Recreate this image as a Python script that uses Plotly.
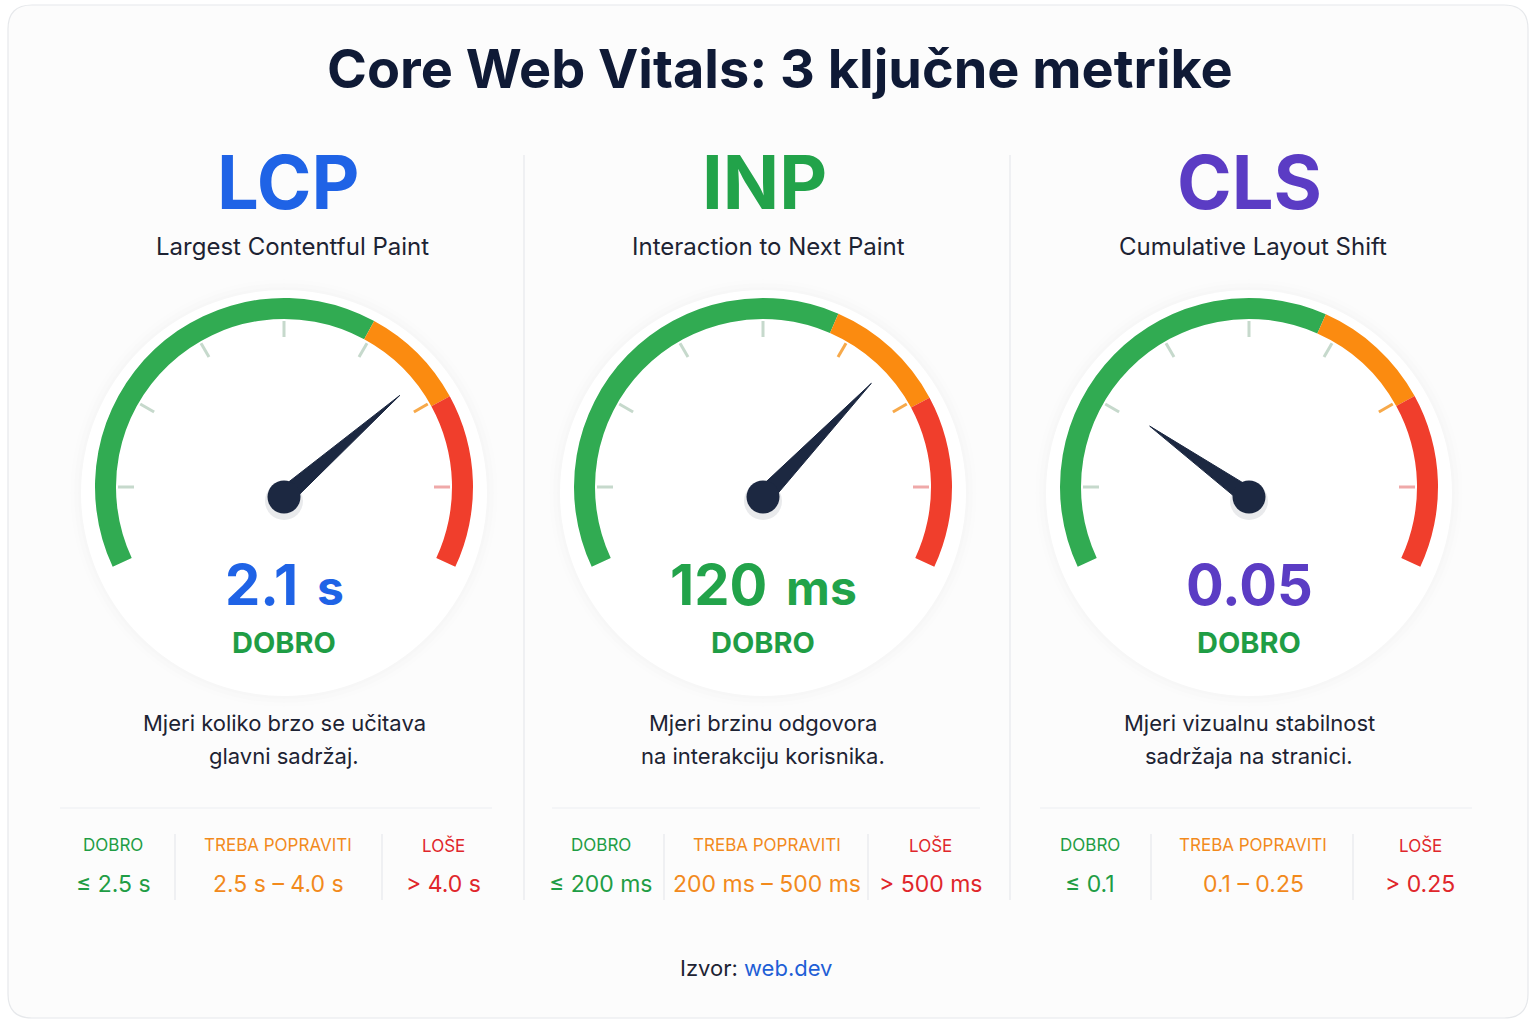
import plotly.graph_objects as go

# ---------------- data ----------------
TITLE = "Core Web Vitals: 3 ključne metrike"
METRICS = ["LCP", "INP", "CLS"]
METRIC_NAMES = ["Largest Contentful Paint", "Interaction to Next Paint", "Cumulative Layout Shift"]
VALUES = [2.1, 120, 0.05]
VALUE_TEXT = ["2.1", "120", "0.05"]
UNITS = ["s", "ms", ""]
STATUS = ["DOBRO", "DOBRO", "DOBRO"]
DESCRIPTIONS = [
    ["Mjeri koliko brzo se učitava", "glavni sadržaj."],
    ["Mjeri brzinu odgovora", "na interakciju korisnika."],
    ["Mjeri vizualnu stabilnost", "sadržaja na stranici."],
]
BAND_LABELS = ["DOBRO", "TREBA POPRAVITI", "LOŠE"]
BAND_RANGES = [
    ["≤ 2.5 s", "2.5 s – 4.0 s", "> 4.0 s"],
    ["≤ 200 ms", "200 ms – 500 ms", "> 500 ms"],
    ["≤ 0.1", "0.1 – 0.25", "> 0.25"],
]
DIAL_MAX = [2.95, 174, 0.19]   # full-scale reading of each dial
SOURCE_LABEL = "Izvor:"
SOURCE = "web.dev"

# ---------------- style ----------------
W, H = 1536, 1024
FONT = "Inter"
NAVY = "#0f1a36"
TEXT = "#1d2333"
ACCENT = ["#1f63e6", "#22a34a", "#5b3cc4"]
GOOD, MID, BAD = "#1f9d45", "#f28a1c", "#e0262b"
BAND_COLORS = [GOOD, MID, BAD]
ZONE_COLORS = ["#31ab52", "#fb8b10", "#f03e2c"]
TG, TO, TR = "#c6d9cc", "#f7a94a", "#efa9a9"
TICK_SCREEN = [180, 150, 120, 90, 60, 30, 0]
TICK_COLORS = [[TG, TG, TG, TG, TG, TO, TR],
               [TG, TG, TG, TG, TO, TO, TR],
               [TG, TG, TG, TG, TG, TO, TR]]
ZONE_SPLITS = [(61.5, 28.7), (66.5, 28.2), (66.0, 28.8)]
COL_X = [284, 763, 1249]
TEXT_X = [288, 764, 1249]
GAUGE_Y = 487
HUB_DY = 10
R_OUT, R_IN = 189, 168
SPAN, START = 230, 205
NEEDLE_LEN = [154, 157, 122]
NEEDLE_COLOR = "#1c2841"
HALF = 200

fig = go.Figure()


def dom(cx, cy):
    return dict(x=[(cx - HALF) / W, (cx + HALF) / W],
                y=[1 - (cy + HALF) / H, 1 - (cy - HALF) / H])


def polar_cfg(cx, cy):
    return dict(
        domain=dom(cx, cy), bgcolor="rgba(0,0,0,0)", hole=0, bargap=0,
        radialaxis=dict(range=[0, HALF], visible=False, showgrid=False),
        angularaxis=dict(visible=False, showgrid=False, rotation=START - 360,
                         direction="clockwise", thetaunit="degrees"),
    )


layout_polars = {}
for i in range(3):
    arc = f"polar{i + 1}" if i else "polar"
    ndl = f"polar{i + 4}"
    layout_polars[arc] = polar_cfg(COL_X[i], GAUGE_Y)
    layout_polars[ndl] = polar_cfg(COL_X[i], GAUGE_Y + HUB_DY)

    # coloured zones
    t1 = START - ZONE_SPLITS[i][0]
    t2 = START - ZONE_SPLITS[i][1]
    bounds = [0, t1, t2, SPAN]
    fig.add_trace(go.Barpolar(
        subplot=arc,
        theta=[(bounds[k] + bounds[k + 1]) / 2 for k in range(3)],
        width=[bounds[k + 1] - bounds[k] for k in range(3)],
        r=[R_OUT - R_IN] * 3, base=[R_IN] * 3,
        marker=dict(color=ZONE_COLORS, line=dict(width=0)),
        hoverinfo="skip", showlegend=False,
    ))
    # ticks
    for col in dict.fromkeys(TICK_COLORS[i]):
        rr, tt = [], []
        for a, c in zip(TICK_SCREEN, TICK_COLORS[i]):
            if c == col:
                rr += [150, 166, None]
                tt += [START - a, START - a, None]
        fig.add_trace(go.Scatterpolar(
            subplot=arc, r=rr, theta=tt, mode="lines",
            line=dict(color=col, width=3), hoverinfo="skip", showlegend=False))

    # needle
    tn = VALUES[i] / DIAL_MAX[i] * SPAN
    fig.add_trace(go.Scatterpolar(
        subplot=ndl, r=[4], theta=[START + 90], mode="markers",
        marker=dict(size=38, color="rgba(15,23,42,0.09)"),
        hoverinfo="skip", showlegend=False))
    fig.add_trace(go.Scatterpolar(
        subplot=ndl,
        r=[NEEDLE_LEN[i], 9, 9, NEEDLE_LEN[i]],
        theta=[tn, tn + 90, tn - 90, tn],
        mode="lines", fill="toself", fillcolor=NEEDLE_COLOR,
        line=dict(color=NEEDLE_COLOR, width=1),
        hoverinfo="skip", showlegend=False))
    fig.add_trace(go.Scatterpolar(
        subplot=ndl, r=[0], theta=[0], mode="markers",
        marker=dict(size=33, color=NEEDLE_COLOR),
        hoverinfo="skip", showlegend=False))

shapes = []
# card
x0, y0, x1, y1, rc = 8, 5, 1528, 1018, 24
path = (f"M{x0 + rc},{y0} L{x1 - rc},{y0} Q{x1},{y0} {x1},{y0 + rc} "
        f"L{x1},{y1 - rc} Q{x1},{y1} {x1 - rc},{y1} L{x0 + rc},{y1} "
        f"Q{x0},{y1} {x0},{y1 - rc} L{x0},{y0 + rc} Q{x0},{y0} {x0 + rc},{y0} Z")
shapes.append(dict(type="path", path=path, xref="x", yref="y", layer="below",
                   fillcolor="#fcfcfc", line=dict(color="#e6e8eb", width=1.2)))
# gauge discs (very soft)
for cx in COL_X:
    cy = GAUGE_Y + 6
    for rad, fc in [(214, "rgba(15,23,42,0.005)"), (210, "rgba(15,23,42,0.006)"),
                    (206, "rgba(15,23,42,0.007)"), (203, "#ffffff")]:
        shapes.append(dict(type="circle", xref="x", yref="y", layer="below",
                           x0=cx - rad, x1=cx + rad, y0=cy - rad, y1=cy + rad,
                           fillcolor=fc, line=dict(width=0)))
# column dividers
for xd in [524, 1010]:
    shapes.append(dict(type="line", xref="x", yref="y", layer="below",
                       x0=xd, x1=xd, y0=155, y1=900, line=dict(color="#e6e8ec", width=1.2)))
# horizontal separators and band dividers
SEP_SPANS = [(60, 492), (552, 980), (1040, 1472)]
BAND_DIV = [(175, 382), (664, 868), (1151, 1353)]
BAND_X = [(113, 278, 443), (601, 767, 930), (1090, 1253, 1420)]
for i in range(3):
    shapes.append(dict(type="line", xref="x", yref="y", layer="below",
                       x0=SEP_SPANS[i][0], x1=SEP_SPANS[i][1], y0=808, y1=808,
                       line=dict(color="#eceef1", width=1.2)))
    for xd in BAND_DIV[i]:
        shapes.append(dict(type="line", xref="x", yref="y", layer="below",
                           x0=xd, x1=xd, y0=834, y1=900,
                           line=dict(color="#e6e8ec", width=1.2)))

ann = []


def txt(x, y, s, size, color, weight=400):
    ann.append(dict(x=x, y=y, xref="x", yref="y", text=s, showarrow=False,
                    xanchor="center", yanchor="middle",
                    font=dict(family=FONT, size=size, color=color, weight=weight)))


txt(780, 68, TITLE, 54, NAVY, 700)
for i in range(3):
    tx = TEXT_X[i]
    txt(tx, 182, METRICS[i], 74, ACCENT[i], 700)
    txt(tx + 4, 246, METRIC_NAMES[i], 24, TEXT, 400)
    unit = (f"<span style='font-size:48px'>\u2009 {UNITS[i]}</span>" if UNITS[i] else "")
    txt(COL_X[i], 585, VALUE_TEXT[i] + unit, 56, ACCENT[i], 700)
    txt(COL_X[i], 642, STATUS[i], 29, GOOD, 700)
    txt(COL_X[i], 723, DESCRIPTIONS[i][0], 22, TEXT, 400)
    txt(COL_X[i], 756, DESCRIPTIONS[i][1], 22, TEXT, 400)
    for k in range(3):
        txt(BAND_X[i][k], 845, BAND_LABELS[k], 17, BAND_COLORS[k], 400)
        txt(BAND_X[i][k], 884, BAND_RANGES[i][k], 23, BAND_COLORS[k], 400)
txt(756, 968, f"{SOURCE_LABEL} <span style='color:#1f5fd6'>{SOURCE}</span>", 22, TEXT, 400)

fig.update_layout(
    width=W, height=H, margin=dict(l=0, r=0, t=0, b=0),
    paper_bgcolor="#ffffff", plot_bgcolor="rgba(0,0,0,0)",
    xaxis=dict(range=[0, W], visible=False, fixedrange=True),
    yaxis=dict(range=[H, 0], visible=False, fixedrange=True),
    shapes=shapes, annotations=ann, showlegend=False,
    **layout_polars,
)

fig.write_html("out.html", config={"displayModeBar": False, "staticPlot": True},
               post_script="document.body.style.margin='0';document.body.style.overflow='hidden';")
